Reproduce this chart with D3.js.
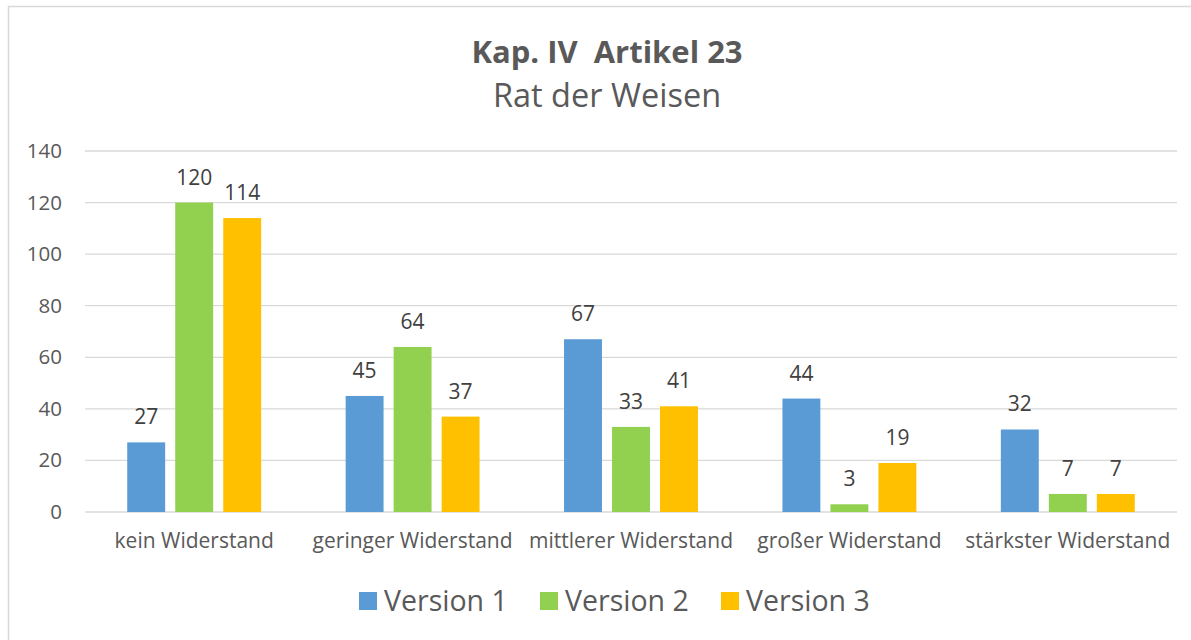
<!DOCTYPE html>
<html>
<head>
<meta charset="utf-8">
<script src="https://cdn.jsdelivr.net/npm/d3@7"></script>
<style>
  body { margin: 0; background: #fff; }
  svg text { font-family: "Open Sans", "Noto Sans", sans-serif; }
</style>
</head>
<body>
<svg id="chart" width="1191" height="640"></svg>
<script>
// chart data
const categories = ["kein Widerstand", "geringer Widerstand", "mittlerer Widerstand", "großer Widerstand", "stärkster Widerstand"];
const seriesNames = ["Version 1", "Version 2", "Version 3"];
const version1 = [27, 45, 67, 44, 32];
const version2 = [120, 64, 33, 3, 7];
const version3 = [114, 37, 41, 19, 7];
const yTicks = [0, 20, 40, 60, 80, 100, 120, 140];
const colors = ["#5B9BD5", "#92D050", "#FFC000"];

const seriesValues = [version1, version2, version3];

const svg = d3.select("#chart");
const margin = { left: 85, right: 1177, top: 151, bottom: 512 };

// outer chart border
svg.append("rect")
    .attr("x", 8.5).attr("y", 6.5)
    .attr("width", 1200).attr("height", 650)
    .attr("fill", "#fff")
    .attr("stroke", "#D9D9D9")
    .attr("stroke-width", 1.5);

// title
svg.append("text")
    .attr("x", 607).attr("y", 63)
    .attr("text-anchor", "middle")
    .attr("font-size", "31px")
    .attr("font-weight", "bold")
    .attr("fill", "#595959")
    .style("white-space", "pre")
    .text("Kap. IV  Artikel 23");

svg.append("text")
    .attr("x", 607).attr("y", 107)
    .attr("text-anchor", "middle")
    .attr("font-size", "32.5px")
    .attr("fill", "#595959")
    .text("Rat der Weisen");

const y = d3.scaleLinear().domain([0, 140]).range([margin.bottom, margin.top]);
const x0 = d3.scaleBand().domain(categories).range([margin.left, margin.right]).padding(0);
const x1 = d3.scaleBand().domain(seriesNames).range([0, x0.bandwidth()])
    .paddingInner(0.21).paddingOuter(0.88);

// gridlines
svg.append("g")
    .selectAll("line")
    .data(yTicks)
    .enter().append("line")
    .attr("x1", margin.left).attr("x2", margin.right)
    .attr("y1", d => y(d)).attr("y2", d => y(d))
    .attr("stroke", "#D9D9D9")
    .attr("stroke-width", 1.3);

// y axis labels
const yAxis = d3.axisLeft(y).tickValues(yTicks).tickSize(0).tickPadding(23);
const yg = svg.append("g")
    .attr("transform", `translate(${margin.left},0)`)
    .call(yAxis);
yg.select(".domain").remove();
yg.selectAll("text").attr("font-size", "20.5px").attr("fill", "#595959")
    .style("font-family", "'Open Sans', sans-serif");

// x axis labels
const xAxis = d3.axisBottom(x0).tickSize(0).tickPadding(21);
const xg = svg.append("g")
    .attr("transform", `translate(0,${margin.bottom})`)
    .call(xAxis);
xg.select(".domain").remove();
xg.selectAll("text").attr("font-size", "21px").attr("fill", "#595959")
    .style("font-family", "'Open Sans', sans-serif");

// bars
const groups = svg.append("g")
    .selectAll("g")
    .data(categories)
    .enter().append("g")
    .attr("transform", d => `translate(${x0(d)},0)`);

groups.selectAll("rect")
    .data((d, i) => seriesNames.map((s, j) => ({ s, j, v: seriesValues[j][i] })))
    .enter().append("rect")
    .attr("x", d => x1(d.s))
    .attr("y", d => y(d.v))
    .attr("width", x1.bandwidth())
    .attr("height", d => y(0) - y(d.v))
    .attr("fill", d => colors[d.j]);

// data labels
groups.selectAll("text.val")
    .data((d, i) => seriesNames.map((s, j) => ({ s, j, v: seriesValues[j][i] })))
    .enter().append("text")
    .attr("class", "val")
    .attr("x", d => x1(d.s) + x1.bandwidth() / 2)
    .attr("y", d => y(d.v) - 18)
    .attr("text-anchor", "middle")
    .attr("font-size", "21px")
    .attr("fill", "#404040")
    .text(d => d.v);

// legend
const legendX = [359, 540, 721];
const legend = svg.append("g")
    .selectAll("g")
    .data(seriesNames)
    .enter().append("g")
    .attr("transform", (d, i) => `translate(${legendX[i]},592)`);

legend.append("rect")
    .attr("width", 18).attr("height", 18)
    .attr("fill", (d, i) => colors[i]);

legend.append("text")
    .attr("x", 25).attr("y", 19)
    .attr("font-size", "28.5px")
    .attr("fill", "#595959")
    .text(d => d);
</script>
</body>
</html>
